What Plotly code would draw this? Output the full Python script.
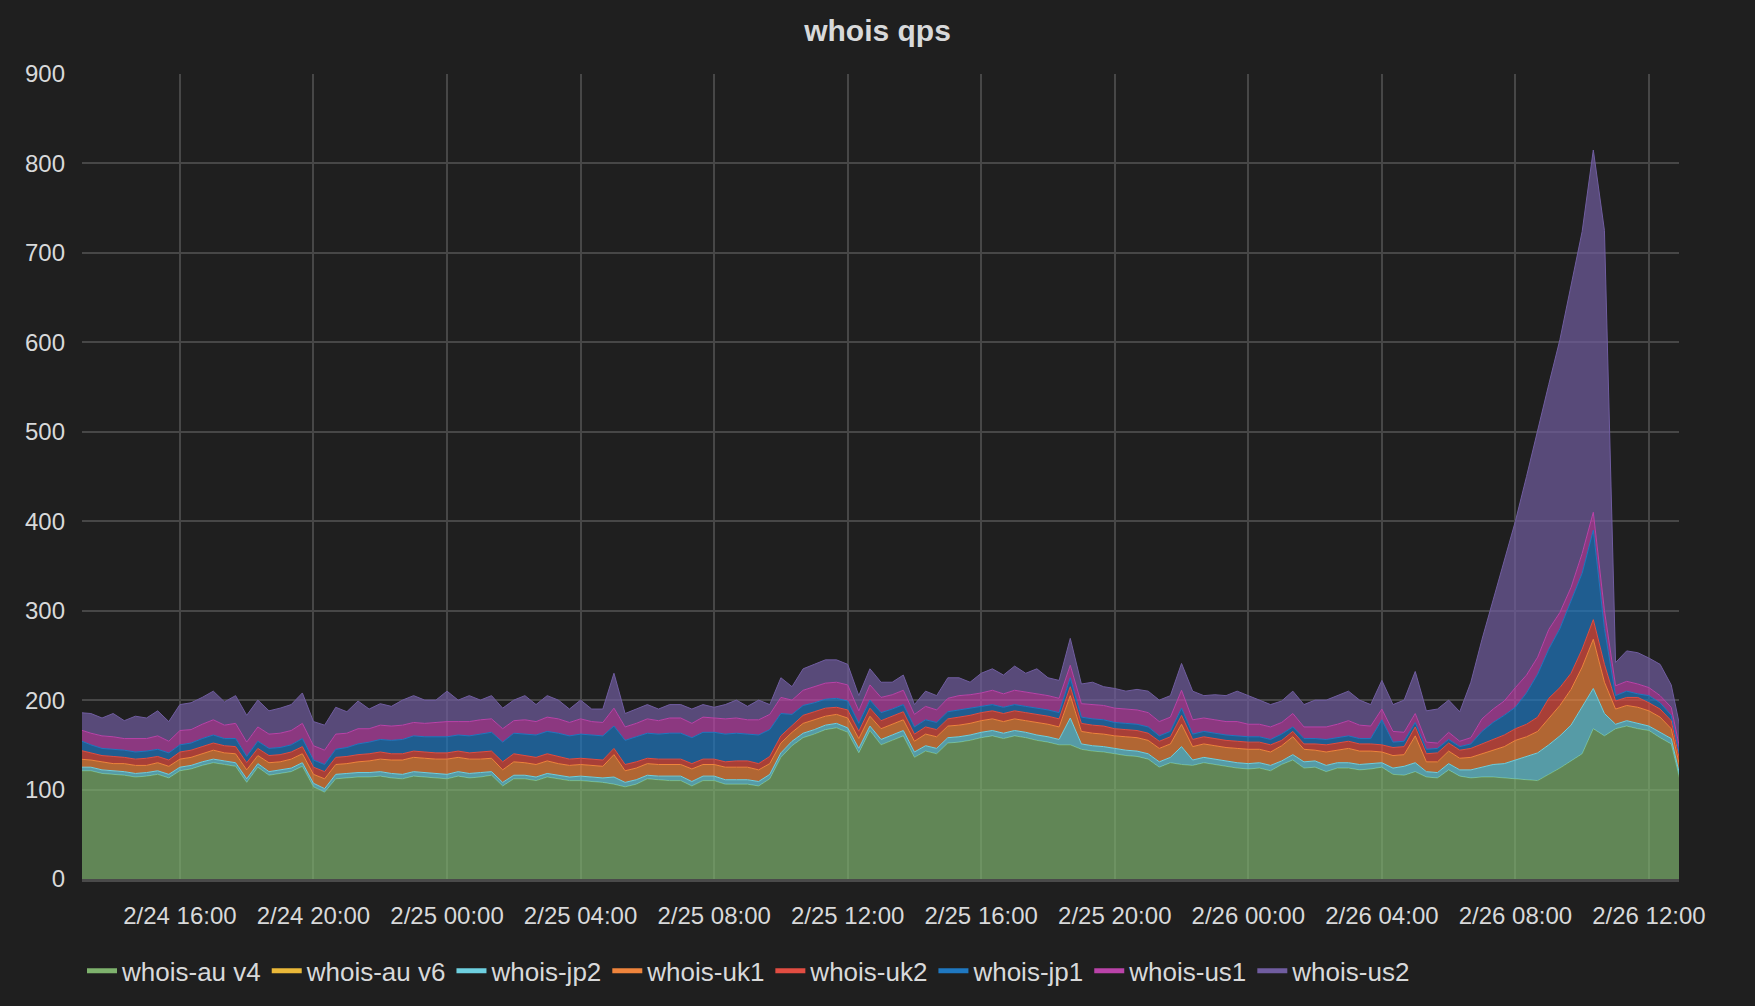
import pandas as pd
import plotly.graph_objects as go

# 20-minute samples, 2/24 13:00 -> 2/26 13:00
times = pd.date_range("2018-02-24 13:00", periods=145, freq="20min")

series_names = ["whois-au v4", "whois-au v6", "whois-jp2", "whois-uk1",
                "whois-uk2", "whois-jp1", "whois-us1", "whois-us2"]

au_v4 = [121, 121, 118, 117, 116, 114, 115, 117, 113, 121, 123, 127,
         130, 128, 126, 108, 125, 116, 118, 120, 126, 103, 97, 112,
         113, 114, 114, 115, 113, 112, 115, 114, 113, 112, 115, 113,
         114, 116, 104, 112, 112, 110, 114, 112, 110, 110, 109, 108,
         106, 103, 106, 112, 111, 110, 110, 104, 110, 110, 106, 106,
         106, 104, 112, 136, 149, 158, 162, 167, 169, 164, 141, 166,
         150, 155, 160, 136, 143, 140, 152, 153, 155, 158, 160, 157,
         160, 158, 155, 153, 150, 150, 145, 143, 142, 140, 138, 137,
         134, 125, 130, 128, 127, 130, 128, 126, 124, 123, 124, 121,
         128, 133, 124, 125, 120, 124, 124, 122, 123, 125, 117, 116,
         120, 114, 113, 122, 115, 113, 114, 114, 113, 112, 111, 110,
         117, 124, 132, 140, 168, 160, 168, 171, 168, 166, 158, 151,
         100]

au_v6 = [0, 0, 0, 0, 0, 0, 0, 0, 0, 0, 0, 0,
         0, 0, 0, 0, 0, 0, 0, 0, 0, 0, 0, 0,
         0, 0, 0, 0, 0, 0, 0, 0, 0, 0, 0, 0,
         0, 0, 0, 0, 0, 0, 0, 0, 0, 0, 0, 0,
         0, 0, 0, 0, 0, 0, 0, 0, 0, 0, 0, 0,
         0, 0, 0, 0, 0, 0, 0, 0, 0, 0, 0, 0,
         0, 0, 0, 0, 0, 0, 0, 0, 0, 0, 0, 0,
         0, 0, 0, 0, 0, 0, 0, 0, 0, 0, 0, 0,
         0, 0, 0, 0, 0, 0, 0, 0, 0, 0, 0, 0,
         0, 0, 0, 0, 0, 0, 0, 0, 0, 0, 0, 0,
         0, 0, 0, 0, 0, 0, 0, 0, 0, 0, 0, 0,
         0, 0, 0, 0, 0, 0, 0, 0, 0, 0, 0, 0,
         0]

jp2 = [4, 4, 4, 4, 4, 4, 4, 4, 4, 4, 4, 4,
       4, 4, 4, 4, 4, 4, 4, 4, 4, 4, 4, 5,
       5, 5, 5, 5, 5, 5, 5, 5, 5, 5, 5, 5,
       5, 4, 4, 4, 4, 4, 4, 4, 4, 5, 5, 5,
       8, 5, 5, 4, 4, 5, 5, 5, 5, 5, 5, 5,
       5, 5, 5, 5, 5, 5, 5, 5, 5, 5, 5, 5,
       6, 6, 6, 6, 6, 6, 6, 6, 6, 6, 6, 6,
       6, 6, 6, 6, 6, 30, 6, 6, 6, 6, 6, 6,
       6, 6, 6, 20, 6, 6, 6, 6, 6, 6, 6, 6,
       4, 6, 7, 7, 7, 6, 6, 6, 6, 5, 7, 10,
       10, 6, 6, 7, 7, 9, 11, 14, 16, 21, 26, 31,
       33, 36, 40, 52, 45, 25, 5, 6, 6, 5, 6, 6,
       4]

uk1 = [9, 8, 9, 8, 9, 9, 8, 9, 9, 9, 9, 9,
       10, 9, 10, 10, 9, 10, 9, 10, 10, 10, 11, 11,
       11, 12, 13, 14, 15, 16, 16, 16, 16, 17, 16, 16,
       15, 15, 14, 15, 14, 14, 14, 13, 13, 13, 13, 13,
       25, 13, 13, 13, 13, 13, 13, 14, 13, 13, 14, 14,
       14, 13, 12, 11, 10, 11, 11, 10, 10, 11, 11, 11,
       12, 12, 12, 12, 13, 13, 13, 13, 13, 13, 13, 13,
       13, 13, 14, 14, 14, 25, 14, 14, 14, 14, 15, 15,
       15, 15, 15, 25, 15, 15, 15, 15, 16, 16, 15, 15,
       17, 20, 14, 12, 15, 14, 16, 15, 14, 12, 14, 13,
       30, 11, 12, 14, 13, 14, 15, 16, 19, 22, 22, 24,
       30, 34, 40, 45, 55, 35, 17, 17, 18, 17, 17, 11,
       9]

uk2 = [10, 8, 7, 8, 7, 7, 8, 7, 7, 8, 8, 8,
       8, 8, 8, 8, 8, 8, 8, 8, 8, 8, 8, 8,
       8, 8, 8, 8, 7, 7, 7, 7, 7, 7, 7, 7,
       8, 8, 9, 9, 8, 8, 8, 8, 7, 7, 7, 7,
       7, 7, 7, 6, 6, 6, 6, 6, 6, 6, 6, 7,
       7, 7, 8, 8, 8, 9, 9, 9, 8, 9, 8, 9,
       9, 9, 9, 8, 8, 8, 8, 9, 9, 9, 9, 9,
       9, 9, 9, 9, 9, 10, 9, 9, 9, 8, 8, 8,
       8, 8, 8, 10, 8, 8, 8, 8, 8, 8, 8, 8,
       6, 6, 6, 7, 8, 8, 8, 8, 8, 8, 9, 9,
       10, 9, 10, 9, 9, 10, 11, 12, 13, 13, 14, 16,
       22, 20, 18, 20, 22, 20, 9, 9, 11, 9, 9, 9,
       6]

jp1 = [11, 9, 8, 8, 8, 8, 8, 8, 8, 8, 8, 9,
       9, 8, 9, 7, 8, 8, 8, 8, 9, 8, 8, 9,
       10, 12, 13, 14, 15, 16, 17, 17, 18, 18, 18, 19,
       20, 21, 22, 23, 24, 25, 25, 26, 26, 27, 27, 27,
       25, 27, 28, 28, 28, 29, 29, 29, 30, 30, 31, 31,
       30, 32, 30, 25, 12, 11, 10, 10, 10, 10, 9, 9,
       9, 8, 8, 8, 8, 8, 8, 8, 8, 7, 7, 7,
       7, 7, 7, 7, 7, 10, 7, 7, 7, 7, 7, 7,
       7, 6, 6, 8, 6, 6, 6, 6, 6, 6, 6, 6,
       7, 5, 6, 6, 6, 6, 6, 6, 6, 28, 6, 6,
       5, 5, 5, 4, 4, 5, 14, 19, 22, 24, 35, 48,
       55, 66, 80, 85, 100, 40, 6, 7, 4, 8, 7, 6,
       5]

us1 = [12, 13, 14, 14, 13, 15, 14, 15, 13, 16, 15, 16,
       17, 15, 17, 16, 16, 16, 16, 16, 17, 16, 16, 17,
       16, 17, 15, 16, 16, 16, 15, 15, 16, 17, 15, 16,
       16, 15, 15, 14, 16, 15, 16, 16, 15, 17, 15, 15,
       20, 15, 15, 16, 15, 17, 17, 16, 17, 16, 17, 17,
       16, 17, 17, 18, 16, 17, 18, 18, 18, 18, 14, 17,
       17, 16, 16, 14, 15, 14, 15, 16, 15, 15, 16, 15,
       16, 16, 16, 16, 16, 14, 15, 16, 16, 16, 16, 16,
       16, 16, 16, 20, 16, 15, 15, 15, 16, 14, 14, 14,
       13, 15, 13, 13, 14, 15, 17, 15, 14, 12, 12, 10,
       10, 8, 6, 8, 6, 7, 14, 15, 16, 22, 20, 19,
       22, 18, 16, 22, 20, 20, 11, 11, 11, 9, 8, 9,
       8]

us2 = [19, 22, 20, 26, 20, 25, 23, 28, 22, 29, 30, 30,
       32, 26, 31, 30, 30, 26, 28, 29, 34, 27, 28, 30,
       24, 31, 22, 24, 22, 28, 30, 26, 25, 34, 24, 29,
       22, 26, 23, 23, 27, 19, 24, 21, 15, 21, 14, 15,
       39, 15, 16, 16, 13, 15, 15, 16, 14, 12, 16, 20,
       15, 22, 11, 22, 15, 24, 25, 26, 25, 23, 17, 18,
       17, 14, 17, 11, 17, 16, 23, 20, 14, 22, 24, 21,
       27, 21, 28, 20, 20, 30, 22, 25, 21, 22, 20, 23,
       24, 24, 24, 30, 32, 25, 28, 29, 34, 32, 27, 25,
       24, 25, 25, 30, 30, 32, 33, 28, 24, 32, 30, 36,
       47, 35, 38, 36, 33, 62, 89, 122, 157, 186, 222, 255,
       274, 305, 336, 360, 405, 425, 26, 34, 35, 33, 35, 25,
       25]

y_ticks = [0, 100, 200, 300, 400, 500, 600, 700, 800, 900]

colors = ["#7EB26D", "#EAB839", "#6ED0E0", "#EF843C",
          "#E24D42", "#1F78C1", "#BA43A9", "#705DA0"]
values = [au_v4, au_v6, jp2, uk1, uk2, jp1, us1, us2]


def rgba(hex_color, a):
    h = hex_color.lstrip("#")
    r, g, b = int(h[0:2], 16), int(h[2:4], 16), int(h[4:6], 16)
    return f"rgba({r},{g},{b},{a})"


FONT = "Liberation Sans, Arial, Helvetica, sans-serif"
TXT = "#d8d9da"
BG = "#1f1f1f"
GRID = "#474747"

fig = go.Figure()
for name, col, vals in zip(series_names, colors, values):
    fig.add_trace(go.Scatter(
        x=times, y=vals, name=name, mode="lines",
        stackgroup="one",
        line=dict(color=col, width=0 if name == "whois-au v6" else 1),
        fillcolor=rgba(col, 0.7),
        showlegend=False,
        hoverinfo="skip",
    ))

# legend entries (short coloured bars like Grafana)
for name, col in zip(series_names, colors):
    fig.add_trace(go.Scatter(
        x=[None], y=[None], name=name, mode="lines",
        line=dict(color=col, width=5),
        showlegend=True,
    ))

fig.update_layout(
    width=1755, height=1006,
    margin=dict(l=82, r=76, t=74, b=124),
    paper_bgcolor=BG, plot_bgcolor=BG,
    font=dict(family=FONT, color=TXT, size=24),
    title=dict(text="<b>whois qps</b>", x=0.5, xref="container",
               xanchor="center", y=1 - 30 / 1006, yref="container",
               yanchor="middle",
               font=dict(family=FONT, size=30, color=TXT)),
    showlegend=True,
    legend=dict(orientation="h", x=0, xanchor="left",
                y=-0.114, yanchor="middle",
                font=dict(family=FONT, size=26, color=TXT),
                bgcolor="rgba(0,0,0,0)", itemwidth=30,
                traceorder="normal"),
    xaxis=dict(
        type="date",
        range=["2018-02-24 13:04", "2018-02-26 12:54"],
        tick0="2018-02-24 16:00", dtick=4 * 3600 * 1000,
        tickformat="%-m/%d %H:%M",
        showgrid=True, gridcolor=GRID, gridwidth=2,
        showline=True, linecolor="#4a4a4a", linewidth=3,
        zeroline=False, ticks="",
        tickfont=dict(family=FONT, size=24, color=TXT),
        ticklabelstandoff=13,
    ),
    yaxis=dict(
        range=[0, 900], tickvals=y_ticks,
        showgrid=True, gridcolor=GRID, gridwidth=2,
        zeroline=False, showline=False, ticks="",
        tickfont=dict(family=FONT, size=24, color=TXT),
        ticklabelstandoff=16,
    ),
)

fig.write_html(
    "out.html",
    config={"displayModeBar": False},
    post_script="document.body.style.margin='0';"
                "document.body.style.background='#1f1f1f';",
)
